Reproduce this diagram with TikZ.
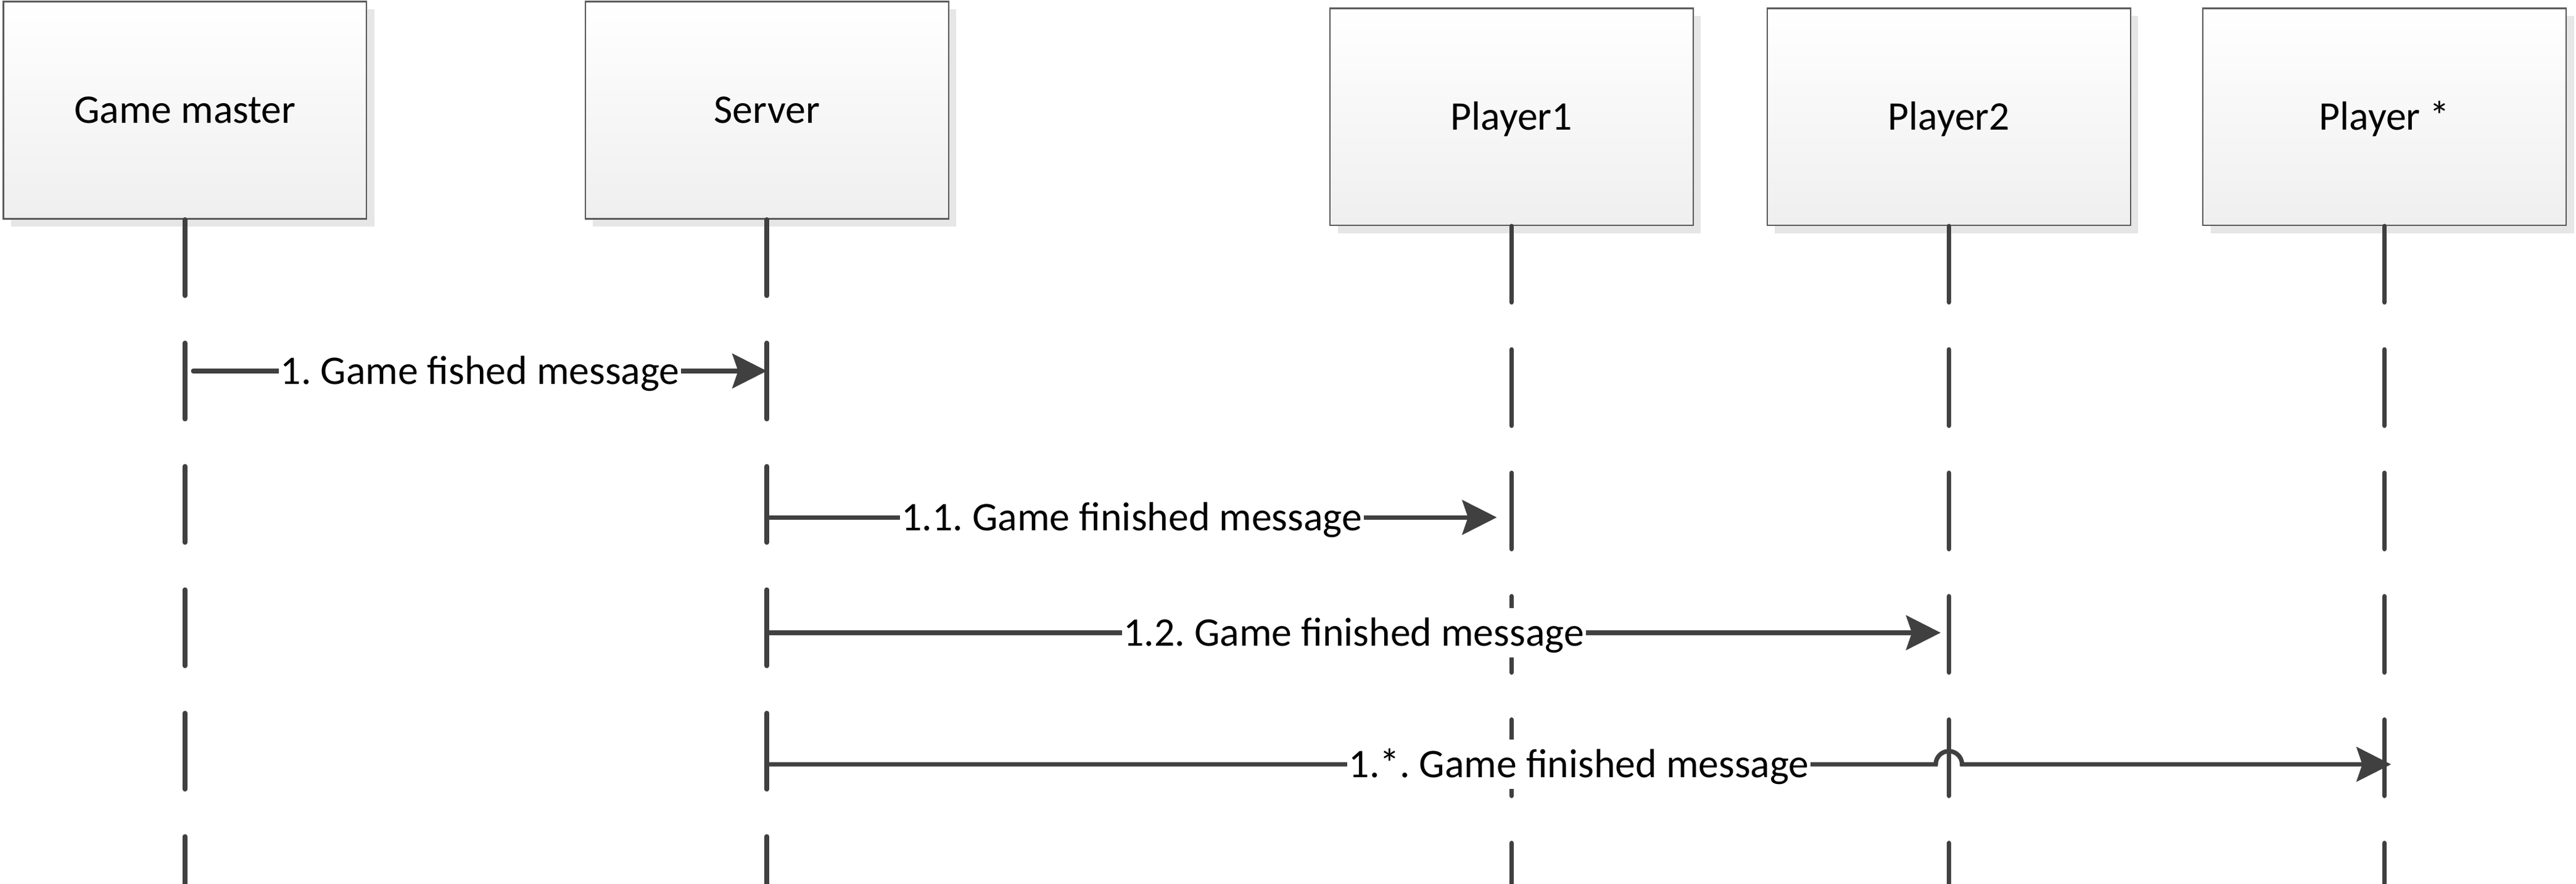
\documentclass[tikz,border=0pt]{standalone}
\usepackage{fontspec}
\setmainfont{Carlito}
\frenchspacing
\usetikzlibrary{arrows.meta,shadows,calc}
\definecolor{linegray}{HTML}{404040}
\definecolor{boxborder}{HTML}{5A5A5A}
\definecolor{shadowgray}{HTML}{E6E6E6}
\definecolor{boxbottom}{HTML}{EFEFEF}
\begin{document}
\frenchspacing
\begin{tikzpicture}[x=1pt,y=-1pt,
  actor/.style={draw=boxborder, line width=0.9pt, top color=white, bottom color=boxbottom,
    minimum width=221pt, minimum height=132pt, inner sep=0pt,
    text height=20pt, text depth=4pt, text=black,
    font=\fontsize{24.7}{30}\selectfont,
    drop shadow={shadow xshift=4.7pt, shadow yshift=-4.7pt, fill=shadowgray, opacity=1}},
  lifeline/.style={draw=linegray, line width=2.8pt, line cap=round, dash pattern=on 46.3pt off 28.7pt},
  msg/.style={draw=linegray, line width=2.7pt, line cap=round,
    -{Stealth[length=21pt,width=21pt,inset=3.5pt,fill=linegray]}},
  lbl/.style={fill=white, inner xsep=1pt, inner ysep=1pt, text height=22pt, text depth=6pt,
    font=\fontsize{24.7}{30}\selectfont, text=black}]
\useasboundingbox (0,0) rectangle (1567,537.3);
% actors
\node[actor] (gm)  at (112.5,67) {Game master};
\node[actor] (srv) at (466.5,67) {Server};
\node[actor] (p1)  at (919.5,71) {Player1};
\node[actor] (p2)  at (1185.5,71) {Player2};
\node[actor] (ps)  at (1450.5,71) {Player *};
% lifelines
\coordinate (bot) at (0,537.3);
\foreach \a in {gm,srv,p1,p2,ps}{
  \draw[lifeline] (\a.south) -- (\a.south |- bot);
}
% message levels
\coordinate (y1) at (0,225.5);
\coordinate (y2) at (0,314.5);
\coordinate (y3) at (0,384.6);
\coordinate (y4) at (0,464.6);
% messages
\draw[msg] ($(gm.center |- y1)+(5,0)$) -- (srv.center |- y1)
  node[lbl, midway] {1. Game fished message};
\draw[msg] (srv.center |- y2) -- ($(p1.center |- y2)+(-9,0)$)
  node[lbl, midway] {1.1. Game finished message};
\draw[msg] (srv.center |- y3) -- ($(p2.center |- y3)+(-5,0)$)
  node[lbl, midway] {1.2. Game finished message};
\draw[msg] (srv.center |- y4) -- ($(p2.center |- y4)+(-8,0)$)
  arc[start angle=180, end angle=0, radius=8pt] -- ($(ps.center |- y4)+(4,0)$);
\node[lbl] (l4) at ($(srv.center |- y4)!0.5!(ps.center |- y4)+(2,0)$) {1.*. Game finished message};
\end{tikzpicture}
\end{document}
